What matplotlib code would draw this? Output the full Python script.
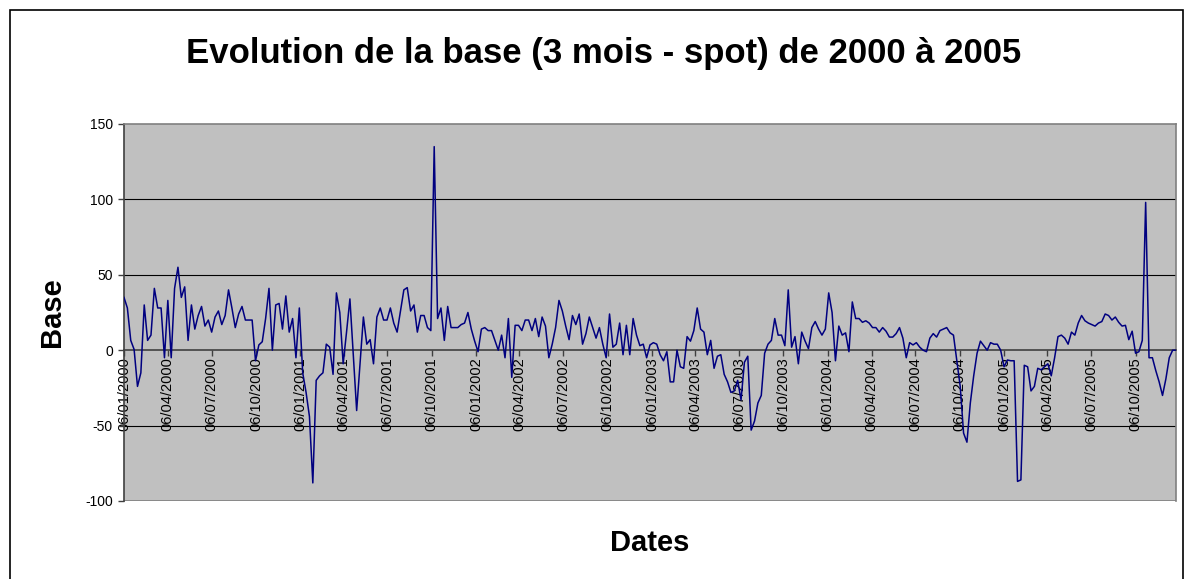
import matplotlib.pyplot as plt
import matplotlib.dates as mdates
from matplotlib.patches import Rectangle
import numpy as np
import pandas as pd

#%% data (weekly basis)
start_date = '2000-01-06'
base_2000 = [35, 28, 6.5, 0.5, -24, -15, 30, 6.5, 10, 41, 28, 28, -5, 33, -5, 41, 55, 35,
             42, 6.5, 30, 14, 23, 29, 16, 20, 12, 22, 26, 17, 23, 40, 28, 15, 24, 29, 20,
             20, 20, -7, 3.5, 5.6, 21, 41, 0, 30, 31, 14, 36, 12, 21, -5, 28]
base_2001 = [-15, -28, -44, -88, -20, -17, -15, 4, 2, -16, 38, 25, -9, 12, 34, -3, -40, -9,
             22, 4, 7, -9, 22, 28, 20, 20, 28, 18, 12, 26, 40, 41.5, 26, 30, 12, 23, 23,
             15, 13, 135, 21, 28, 6.5, 29, 15, 15, 15, 17, 18, 25, 14, 6]
base_2002 = [-1, 14, 15, 13, 13, 6.5, 0, 10, -5, 21, -18, 16.5, 16.5, 13, 20, 20, 13, 21,
             9, 22, 16, -5, 4, 15, 33, 26, 16, 7, 23, 17, 24, 4, 11, 22, 15, 8, 15, 4, -5,
             24, 2, 4, 18, -3, 16.5, -3, 21, 10, 3, 4, -5, 3.5]
base_2003 = [5, 4, -3, -7, -1, -21, -21, 0, -11, -12, 9, 6, 13, 28, 14, 12, -3, 6.5, -12,
             -4, -3, -16, -21, -28, -27, -20, -33, -8, -4, -53, -47, -35, -30, -2, 4, 6.5,
             21, 10, 10, 3, 40, 2, 9, -9, 12, 6, 1, 15, 19, 14, 10, 14]
base_2004 = [38, 25, -7, 16, 10, 11.5, -1, 32, 21, 21, 18.5, 19.5, 18, 15, 15, 12, 15,
             12.6, 8.7, 8.7, 11, 15, 8, -5, 5, 3.5, 5, 2, 0, -1, 8, 11, 8.7, 13, 14, 15,
             11.5, 10, -7, -24, -55, -61, -35, -17, -2, 6, 3, 0, 5, 4, 4, 0]
base_2005 = [-11, -6.5, -7, -7, -87, -86, -10, -11, -27, -24, -12, -13, -11, -9, -17, -5,
             9, 10, 8, 4, 12, 10, 18, 23, 19.5, 18, 17, 16, 18, 19, 24, 23, 20, 22, 18.5,
             16, 16.5, 7, 12.6, -2, -1, 6.5, 98, -5, -5, -13.5, -21, -30, -19, -5, 0, 0]

base = base_2000 + base_2001 + base_2002 + base_2003 + base_2004 + base_2005
dates = pd.date_range(start_date, periods=len(base), freq='7D')
# ticks on the 6th of Jan/Apr/Jul/Oct
tick_dates = pd.date_range('2000-01-01', '2005-10-01', freq='3MS') + pd.Timedelta(days=5)

plt.rcParams['font.family'] = ['Liberation Sans', 'DejaVu Sans']
plt.rcParams['axes.unicode_minus'] = False

#%% figure
fig = plt.figure(figsize=(11.89, 5.79), dpi=100)
ax = fig.add_axes([124/1189, 1-501/579, (1176-124)/1189, (501-124)/579])
ax.set_facecolor('#C0C0C0')

ax.plot(dates, base, color='#000080', linewidth=1.1, zorder=3)

ax.set_ylim(-100, 150)
ax.set_yticks([-100, -50, 0, 50, 100, 150])
ax.set_xlim(dates[0], dates[-1])
for y in [-50, 50, 100]:
    ax.axhline(y, color='black', linewidth=0.8, zorder=1)
ax.axhline(-100, color='#808080', linewidth=1.2, zorder=2)

ax.spines['bottom'].set_position(('data', 0))
ax.spines['bottom'].set_color('#404040')
ax.spines['bottom'].set_linewidth(1.2)
ax.spines['left'].set_color('#404040')
ax.spines['left'].set_linewidth(1.2)
for s in ['top', 'right']:
    ax.spines[s].set_color('#808080')
    ax.spines[s].set_linewidth(1.2)

ax.set_xticks(tick_dates)
ax.xaxis.set_major_formatter(mdates.DateFormatter('%d/%m/%Y'))
ax.tick_params(axis='x', direction='out', length=4, width=1, color='#404040',
               labelsize=10.5, labelrotation=90, pad=1)
ax.tick_params(axis='y', direction='out', length=4, width=1, color='#404040',
               labelsize=10, pad=4)

ax.set_ylabel('Base', fontsize=21, fontweight='bold', labelpad=14)
fig.text(650/1189, 1-543/579, 'Dates', fontsize=21, fontweight='bold',
         ha='center', va='center')
fig.text(604/1189, 1-54/579, 'Evolution de la base (3 mois - spot) de 2000 à 2005',
         fontsize=25, fontweight='bold', ha='center', va='center')

# chart border
fig.patches.append(Rectangle((10/1189, -0.05), 1173/1189, 1.05-10/579,
                             transform=fig.transFigure, fill=False,
                             edgecolor='black', linewidth=1.2))

plt.savefig('out.png', dpi=100)
